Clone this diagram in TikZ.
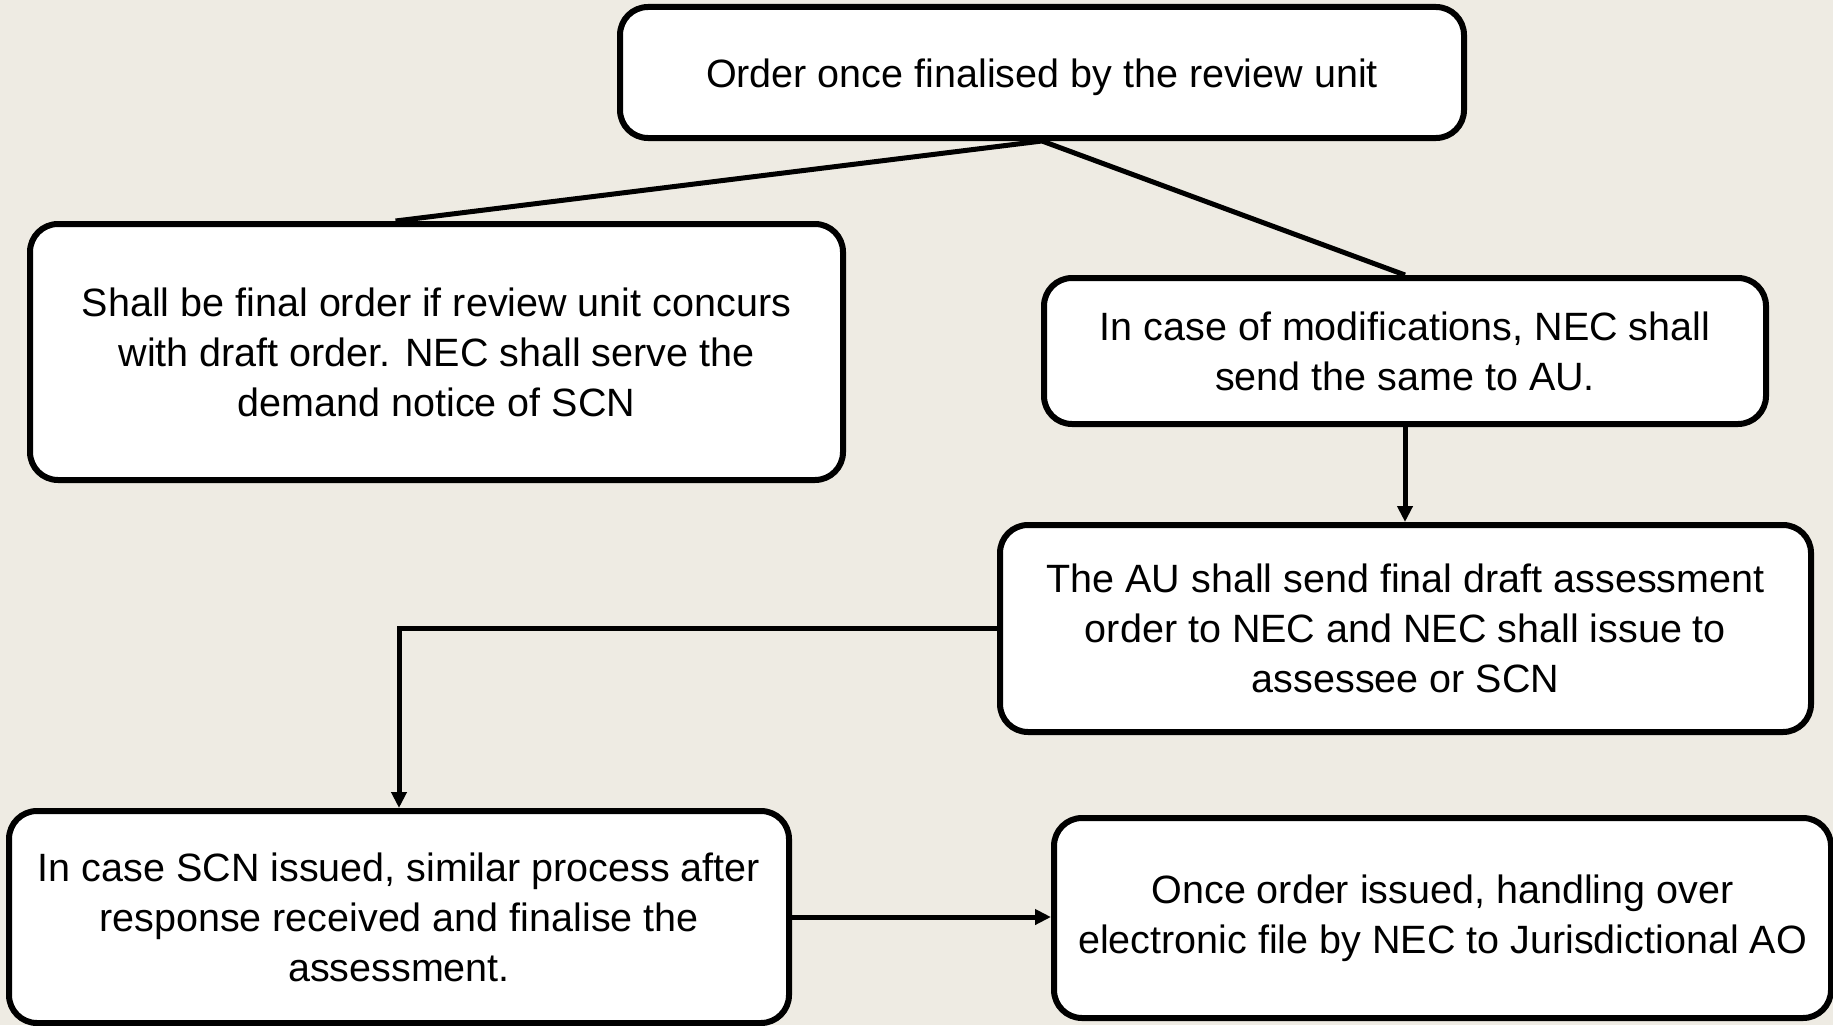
\documentclass[tikz,border=0pt]{standalone}
\usepackage{fontspec}
\setmainfont{Liberation Sans}
\usetikzlibrary{arrows.meta,calc}
\definecolor{bgc}{RGB}{238,235,227}
\begin{document}
\begin{tikzpicture}[x=1pt,y=1pt,
  box/.style={draw=black,line width=6pt,rounded corners=28pt,fill=white,
    align=center,inner sep=0pt,font=\fontsize{39.5}{50}\selectfont},
  conn/.style={draw=black,line width=5pt},
  arr/.style={conn,-{Triangle[length=16pt,width=15pt]}}]
\useasboundingbox (0,0) rectangle (1833,-1025);
\fill[bgc] (0,0) rectangle (1833,-1025);
\node[box,minimum width=844pt,minimum height=131pt,text height=30pt,text depth=0pt] (b1) at (1042,-72.5)
  {Order once finalised by the review unit};
\node[box,minimum width=813pt,minimum height=256pt] (b2) at (436.5,-352)
  {Shall be final order if review unit concurs\\with draft order. NEC shall serve the\\demand notice of SCN};
\node[box,minimum width=722pt,minimum height=146pt] (b3) at (1405,-351)
  {In case of modifications, NEC shall\\send the same to AU.};
\node[box,minimum width=811pt,minimum height=207pt] (b4) at (1405.5,-628.5)
  {The AU shall send final draft assessment\\order to NEC and NEC shall issue to\\assessee or SCN};
\node[box,minimum width=780pt,minimum height=212pt] (b5) at (399,-917)
  {In case SCN issued, similar process after\\response received and finalise the\\assessment.};
\node[box,minimum width=777pt,minimum height=200pt] (b6) at (1442.5,-918)
  {Once order issued, handling over\\electronic file by NEC to Jurisdictional AO};
\coordinate (b2top) at ($(b2.north west)!0.45!(b2.north east)$);
\draw[conn] (b2top) -- (b1.south) -- (b3.north);
\draw[arr] (b3.south) -- (b3.south |- b4.north);
\draw[arr] (b4.west) -| (b5.north);
\draw[arr] (b5.east) -- (b5.east -| b6.west);
\end{tikzpicture}
\end{document}
